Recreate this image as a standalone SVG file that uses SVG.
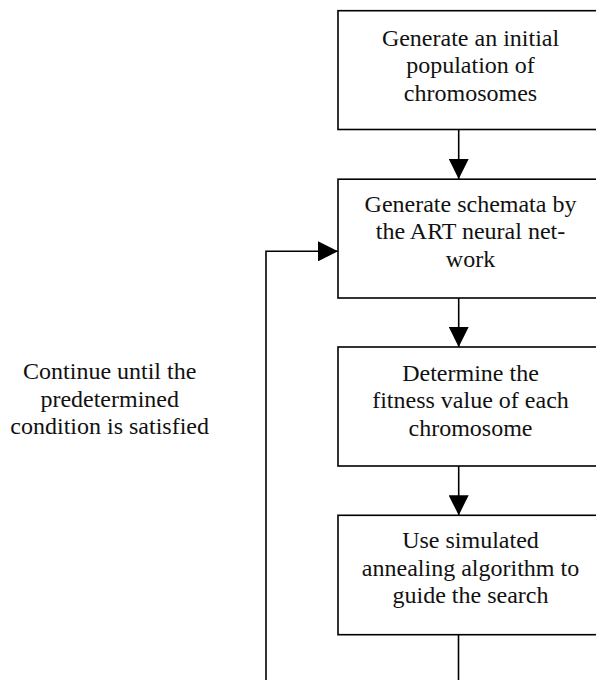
<svg xmlns="http://www.w3.org/2000/svg" width="596" height="680" viewBox="0 0 596 680">
<style>
.box{fill:#fff;stroke:#000;stroke-width:1.6}
.t{font-family:"Liberation Serif","Times New Roman",serif;font-size:24px;fill:#111;text-anchor:middle}
.c{fill:none;stroke:#000;stroke-width:1.6}
</style>
<defs>
<marker id="ah" markerUnits="userSpaceOnUse" markerWidth="20" markerHeight="20" viewBox="0 0 20 20" refX="20" refY="10" orient="auto">
<path d="M0,0 L20,10 L0,20 Z" fill="#000"/>
</marker>
</defs>
<rect width="596" height="680" fill="#fff"/>
<g id="connectors">
<path class="c" d="M458.7 129.5 V179" marker-end="url(#ah)"/>
<path class="c" d="M458.7 298 V347" marker-end="url(#ah)"/>
<path class="c" d="M458.7 466 V515.3" marker-end="url(#ah)"/>
<path class="c" d="M458.5 634.7 V700 H266 V251.3 H338" marker-end="url(#ah)"/>
</g>
<g id="n1">
<rect class="box" x="338" y="10.7" width="266" height="118.8"/>
<text class="t" x="470.5" y="45.7">Generate an initial</text>
<text class="t" x="470.5" y="73.3">population of</text>
<text class="t" x="470.5" y="100.7">chromosomes</text>
</g>
<g id="n2">
<rect class="box" x="338" y="179.2" width="266" height="118.8"/>
<text class="t" x="470.5" y="211.7">Generate schemata by</text>
<text class="t" x="470.5" y="239.3">the ART neural net-</text>
<text class="t" x="470.5" y="266.7">work</text>
</g>
<g id="n3">
<rect class="box" x="338" y="347" width="266" height="119"/>
<text class="t" x="470.5" y="380.7">Determine the</text>
<text class="t" x="470.5" y="408.3">fitness value of each</text>
<text class="t" x="470.5" y="436">chromosome</text>
</g>
<g id="n4">
<rect class="box" x="338" y="515.3" width="266" height="119.4"/>
<text class="t" x="470.5" y="548.3">Use simulated</text>
<text class="t" x="470.5" y="576">annealing algorithm to</text>
<text class="t" x="470.5" y="603.3">guide the search</text>
</g>
<g id="loop-label">
<text class="t" x="109.7" y="379">Continue until the</text>
<text class="t" x="109.7" y="406.7">predetermined</text>
<text class="t" x="109.7" y="434">condition is satisfied</text>
</g>
</svg>
